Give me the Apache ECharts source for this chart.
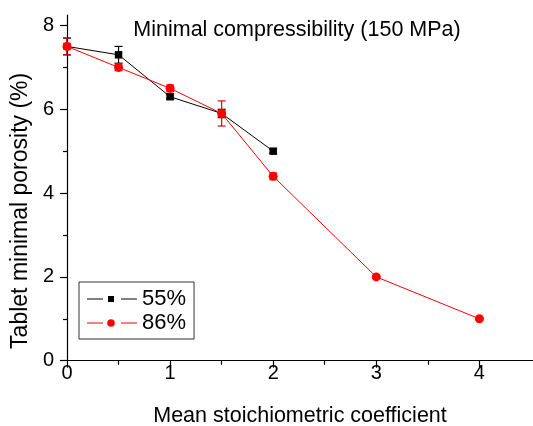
<!DOCTYPE html>
<html>
<head>
<meta charset="utf-8">
<script src="https://cdn.jsdelivr.net/npm/echarts@6/dist/echarts.min.js"></script>
<style>
  html, body { margin: 0; padding: 0; background: #fff; }
  #chart { width: 533px; height: 426px; }
</style>
</head>
<body>
<div id="chart"></div>
<script>
// Mean stoichiometric coefficient vs. tablet minimal porosity at 150 MPa
const x55 = [0, 0.5, 1, 1.5, 2];
const y55 = [7.5, 7.3, 6.3, 5.9, 5.0];
const err55 = [0.2, 0.2, 0.06, 0.1, 0.05];

const x86 = [0, 0.5, 1, 1.5, 2, 3, 4];
const y86 = [7.5, 7.0, 6.5, 5.9, 4.4, 2.0, 1.0];
const err86 = [0.2, 0.08, 0.08, 0.3, 0.08, 0, 0];

const xMajor = [0, 1, 2, 3, 4];
const xMinor = [0.5, 1.5, 2.5, 3.5];
const yMajor = [0, 2, 4, 6, 8];
const yMinor = [1, 3, 5, 7];

const FONT = '"Liberation Sans", Arial, sans-serif';
const BLACK = '#000';
const RED = '#ff0000';

function pairs(xs, ys) { return xs.map((x, i) => [x, ys[i]]); }
function bars(xs, ys, es) { return xs.map((x, i) => [x, ys[i] - es[i], ys[i] + es[i]]); }

// where both series share a point, the 86% colour shows through
function sharedWith86(x, y) {
  return x86.some((v, i) => v === x && y86[i] === y);
}

// legend keys: line – marker – line, with gaps around the marker
const ICON_SQUARE = 'path://M0 3.5H16V4.5H0Z M21 1H27V7H21Z M34 3.5H50V4.5H34Z';
const ICON_CIRCLE = 'path://M0 3.5H16V4.5H0Z M20.2 4A3.8 3.8 0 1 0 27.8 4A3.8 3.8 0 1 0 20.2 4Z M34 3.5H50V4.5H34Z';

function errorBarSeries(data, color) {
  return {
    type: 'custom',
    xAxisIndex: 0, yAxisIndex: 0,
    silent: true,
    data: data,
    renderItem: function (params, api) {
      const lo = api.coord([api.value(0), api.value(1)]);
      const hi = api.coord([api.value(0), api.value(2)]);
      const w = 4;
      const style = { stroke: color, lineWidth: 1.2 };
      return {
        type: 'group',
        children: [
          { type: 'line', shape: { x1: lo[0], y1: lo[1], x2: hi[0], y2: hi[1] }, style: style },
          { type: 'line', shape: { x1: lo[0] - w, y1: lo[1], x2: lo[0] + w, y2: lo[1] }, style: style },
          { type: 'line', shape: { x1: hi[0] - w, y1: hi[1], x2: hi[0] + w, y2: hi[1] }, style: style }
        ]
      };
    }
  };
}

const chart = echarts.init(document.getElementById('chart'), null, { renderer: 'canvas' });

const axisLine = { show: true, lineStyle: { color: '#000', width: 1.2 } };

chart.setOption({
  animation: false,
  backgroundColor: '#fff',
  textStyle: { fontFamily: FONT },
  title: {
    text: 'Minimal compressibility (150 MPa)',
    left: 297,
    top: 19,
    padding: 0,
    textAlign: 'center',
    textStyle: { fontFamily: FONT, fontSize: 21.5, fontWeight: 'normal', color: '#000' }
  },
  legend: {
    data: [
      { name: '55%', icon: ICON_SQUARE, itemStyle: { color: BLACK } },
      { name: '86%', icon: ICON_CIRCLE, itemStyle: { color: RED } }
    ],
    orient: 'vertical',
    left: 79,
    top: 282,
    padding: [6, 8, 5, 8],
    itemGap: 2,
    itemWidth: 50,
    itemHeight: 8,
    borderColor: '#333',
    borderWidth: 1,
    textStyle: { fontFamily: FONT, fontSize: 22, color: '#000', padding: [0, 0, 0, 0] }
  },
  grid: { left: 67, right: 0, top: 15, bottom: 65.3, containLabel: false, outerBoundsMode: 'none' },
  xAxis: [
    {
      type: 'value', min: 0, max: 4.52,
      position: 'bottom',
      name: 'Mean stoichiometric coefficient',
      nameLocation: 'middle',
      nameGap: 44,
      nameTextStyle: { fontFamily: FONT, fontSize: 21.5, color: '#000' },
      axisLine: axisLine,
      axisTick: { show: true, inside: false, length: 7, customValues: xMajor, lineStyle: { color: '#000', width: 1.2 } },
      axisLabel: { customValues: xMajor, margin: 3, fontFamily: FONT, fontSize: 20, color: '#000' },
      splitLine: { show: false }
    },
    {
      type: 'value', min: 0, max: 4.52,
      position: 'bottom',
      axisLine: { show: false },
      axisTick: { show: true, inside: false, length: 4, customValues: xMinor, lineStyle: { color: '#000', width: 1.2 } },
      axisLabel: { show: false },
      splitLine: { show: false }
    }
  ],
  yAxis: [
    {
      type: 'value', min: 0, max: 8.25,
      position: 'left',
      name: 'Tablet minimal porosity (%)',
      nameLocation: 'middle',
      nameGap: 34,
      nameTextStyle: { fontFamily: FONT, fontSize: 23, color: '#000', padding: [0, 46, 0, 0] },
      axisLine: axisLine,
      axisTick: { show: true, inside: false, length: 7, customValues: yMajor, lineStyle: { color: '#000', width: 1.2 } },
      axisLabel: { customValues: yMajor, margin: 13, fontFamily: FONT, fontSize: 20, color: '#000' },
      splitLine: { show: false }
    },
    {
      type: 'value', min: 0, max: 8.25,
      position: 'left',
      axisLine: { show: false },
      axisTick: { show: true, inside: false, length: 4, customValues: yMinor, lineStyle: { color: '#000', width: 1.2 } },
      axisLabel: { show: false },
      splitLine: { show: false }
    }
  ],
  series: [
    errorBarSeries(bars(x55, y55, err55), '#000'),
    {
      name: '55%',
      type: 'line',
      xAxisIndex: 0, yAxisIndex: 0,
      data: pairs(x55, y55),
      symbol: 'rect',
      symbolSize: 7.5,
      lineStyle: { color: BLACK, width: 1 },
      itemStyle: {
        color: function (p) { return sharedWith86(p.value[0], p.value[1]) ? RED : BLACK; }
      }
    },
    errorBarSeries(bars(x86, y86, err86), '#cc1010'),
    {
      name: '86%',
      type: 'line',
      xAxisIndex: 0, yAxisIndex: 0,
      data: pairs(x86, y86),
      symbol: 'circle',
      symbolSize: 9,
      lineStyle: { color: RED, width: 1 },
      itemStyle: { color: RED }
    }
  ]
});
</script>
</body>
</html>
